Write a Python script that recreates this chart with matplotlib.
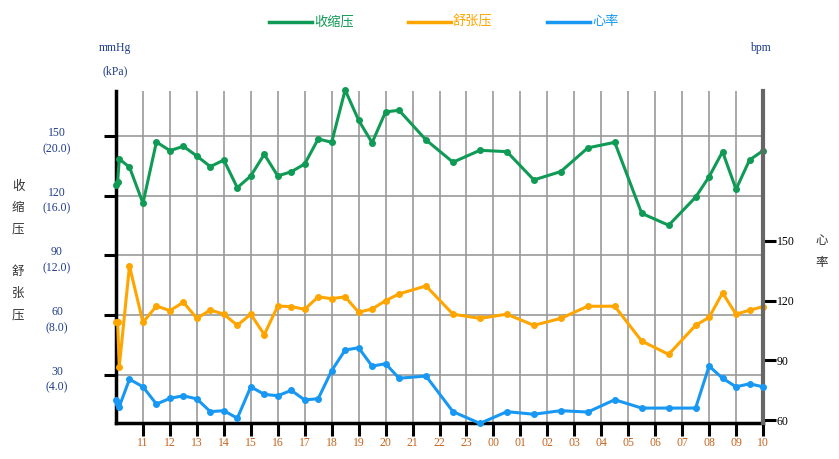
import matplotlib.pyplot as plt
from matplotlib.lines import Line2D

plt.rcParams['font.family'] = ['Liberation Serif', 'Noto Sans CJK SC']

# dados: horas contadas a partir das 10:00
horas = [0, 0.06, 0.12, 0.5, 1, 1.5, 2, 2.5, 3, 3.5, 4, 4.5, 5, 5.5, 6, 6.5, 7, 7.5, 8,
         8.5, 9, 9.5, 10, 10.5, 11.5, 12.5, 13.5, 14.5, 15.5, 16.5, 17.5, 18.5, 19.5,
         20.5, 21.5, 22, 22.5, 23, 23.5, 24]
sistolica = [125.4, 126.7, 138.4, 134.3, 116.2, 147, 142.6, 144.8, 139.9, 134.6, 137.9,
             124, 129.9, 140.8, 129.9, 132, 135.9, 148.5, 146.8, 173.1, 157.9, 146.6,
             162.1, 162.9, 148, 136.8, 142.8, 142.1, 127.9, 132.1, 144, 146.8, 111.1,
             105.1, 119.2, 129.5, 142.1, 123.2, 137.9, 142.6]
diastolica = [56.5, 56.5, 33.9, 84.6, 56.3, 64.5, 62.2, 66.4, 58.3, 62.5, 60.4, 54.8,
              60.4, 50.1, 64.5, 64.2, 62.9, 69.1, 68.2, 69.1, 61.4, 63.0, 67.2, 70.6,
              74.6, 60.4, 58.3, 60.4, 54.8, 58.3, 64.4, 64.4, 46.9, 40.2, 54.8, 58.8,
              71.1, 60.4, 62.4, 64.2]
frequencia = [70.1, 68, 66.7, 80.5, 76.7, 68.0, 70.9, 72.2, 70.6, 64.2, 64.7, 60.9,
              76.7, 72.9, 72.2, 74.9, 70.1, 70.7, 84.8, 95.2, 96.3, 87.1, 88.3, 81.0,
              82.1, 64.2, 58.3, 64.2, 62.9, 64.7, 64.0, 70.2, 66.0, 66.0, 66.0, 87.1,
              81.0, 76.7, 78.2, 76.7]

rotulos_x = ['11', '12', '13', '14', '15', '16', '17', '18', '19', '20', '21', '22', '23',
             '00', '01', '02', '03', '04', '05', '06', '07', '08', '09', '10']
ticks_esq = [150, 120, 90, 60, 30]
kpa = ['(20.0)', '(16.0)', '(12.0)', '(8.0)', '(4.0)']
ticks_dir = [150, 120, 90, 60]

verde = '#0f9a55'
laranja = '#ffa500'
azul = '#1898f2'
azul_texto = '#1f3c88'

fig = plt.figure(figsize=(8.39, 4.59), dpi=100)
ax = fig.add_axes([116 / 839, 36 / 459, 647 / 839, 332 / 459])

ax.plot(horas, sistolica, color=verde, lw=2.2, marker='o', ms=4, clip_on=False, zorder=3)
ax.plot(horas, diastolica, color=laranja, lw=2.2, marker='o', ms=4, clip_on=False, zorder=3)
ax.set_xlim(0, 24)
ax.set_ylim(5.7, 172.6)

ax.set_xticks(range(1, 25))
ax.set_xticklabels(rotulos_x, color='#c8641e', fontsize=8.5)
ax.set_yticks(ticks_esq)
ax.set_yticklabels([])
ax.tick_params(axis='x', direction='out', length=9, width=2.2, pad=1)
ax.tick_params(axis='y', direction='out', length=9, width=2.2)
ax.grid(True, color='#999999', lw=1.2)
ax.set_axisbelow(True)

for s in ['top', 'right']:
    ax.spines[s].set_visible(False)
ax.spines['left'].set_linewidth(2.5)
ax.spines['bottom'].set_linewidth(2.5)

# rotulos do eixo esquerdo (mmHg e kPa)
for v, k in zip(ticks_esq, kpa):
    ax.text(-0.0912, v + 1.5, str(v), transform=ax.get_yaxis_transform(),
            ha='center', va='center', fontsize=8.5, color=azul_texto)
    ax.text(-0.0912, v - 6.5, k, transform=ax.get_yaxis_transform(),
            ha='center', va='center', fontsize=8.5, color=azul_texto)

ax2 = ax.twinx()
ax2.plot(horas, frequencia, color=azul, lw=2.2, marker='o', ms=4, clip_on=False, zorder=3)
ax2.set_ylim(58.5, 225.4)
ax2.set_yticks(ticks_dir)
ax2.tick_params(axis='y', direction='out', length=9, width=2.2, pad=1, labelsize=8.5)
for s in ['top', 'left', 'bottom']:
    ax2.spines[s].set_visible(False)
ax2.spines['right'].set_color('#666666')
ax2.spines['right'].set_linewidth(3)

# textos
fig.text(115 / 839, 1 - 48 / 459, 'mmHg', ha='center', va='center', fontsize=8.5, color=azul_texto)
fig.text(115 / 839, 1 - 71 / 459, '(kPa)', ha='center', va='center', fontsize=8.5, color=azul_texto)
fig.text(760 / 839, 1 - 48 / 459, 'bpm', ha='center', va='center', fontsize=8.5, color=azul_texto)

for c, y in zip('收缩压', [187, 208, 230]):
    fig.text(18 / 839, 1 - y / 459, c, ha='center', va='center', fontsize=9, color='#333333')
for c, y in zip('舒张压', [272, 294, 316]):
    fig.text(18 / 839, 1 - y / 459, c, ha='center', va='center', fontsize=9, color='#333333')
for c, y in zip('心率', [241, 263]):
    fig.text(822 / 839, 1 - y / 459, c, ha='center', va='center', fontsize=9, color='#333333')

# legenda
for nome, cor, x0 in [('收缩压', verde, 269), ('舒张压', laranja, 408), ('心率', azul, 547)]:
    fig.add_artist(Line2D([x0 / 839, (x0 + 43) / 839], [1 - 22 / 459, 1 - 22 / 459],
                          color=cor, lw=2.5, transform=fig.transFigure))
    fig.text((x0 + 45) / 839, 1 - 22 / 459, nome, ha='left', va='center', fontsize=9.5, color=cor)

fig.savefig('out.png', dpi=100)
